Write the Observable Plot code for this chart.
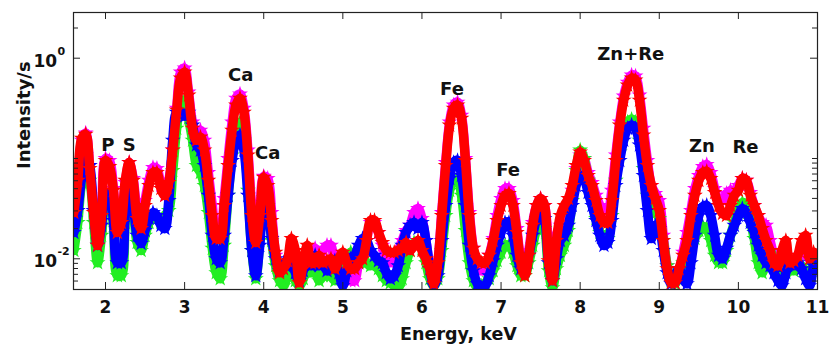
<!DOCTYPE html>
<html>
<head>
<meta charset="utf-8">
<script src="https://cdn.jsdelivr.net/npm/d3@7"></script>
<script src="https://cdn.jsdelivr.net/npm/@observablehq/plot@0.6"></script>
<style>
  body { margin: 0; background: #fff; }
</style>
</head>
<body>
<div id="chart"></div>
<script>
// X-ray fluorescence spectra, counts per second versus photon energy (keV)
const energy = [
  1.60, 1.65, 1.70, 1.75, 1.80, 1.85, 1.90, 1.95, 2.00, 2.05,
  2.10, 2.15, 2.20, 2.25, 2.30, 2.35, 2.40, 2.45, 2.50, 2.55,
  2.60, 2.65, 2.70, 2.75, 2.80, 2.85, 2.90, 2.95, 3.00, 3.05,
  3.10, 3.15, 3.20, 3.25, 3.30, 3.35, 3.40, 3.45, 3.50, 3.55,
  3.60, 3.65, 3.70, 3.75, 3.80, 3.85, 3.90, 3.95, 4.00, 4.05,
  4.10, 4.15, 4.20, 4.25, 4.30, 4.35, 4.40, 4.45, 4.50, 4.55,
  4.60, 4.65, 4.70, 4.75, 4.80, 4.85, 4.90, 4.95, 5.00, 5.05,
  5.10, 5.15, 5.20, 5.25, 5.30, 5.35, 5.40, 5.45, 5.50, 5.55,
  5.60, 5.65, 5.70, 5.75, 5.80, 5.85, 5.90, 5.95, 6.00, 6.05,
  6.10, 6.15, 6.20, 6.25, 6.30, 6.35, 6.40, 6.45, 6.50, 6.55,
  6.60, 6.65, 6.70, 6.75, 6.80, 6.85, 6.90, 6.95, 7.00, 7.05,
  7.10, 7.15, 7.20, 7.25, 7.30, 7.35, 7.40, 7.45, 7.50, 7.55,
  7.60, 7.65, 7.70, 7.75, 7.80, 7.85, 7.90, 7.95, 8.00, 8.05,
  8.10, 8.15, 8.20, 8.25, 8.30, 8.35, 8.40, 8.45, 8.50, 8.55,
  8.60, 8.65, 8.70, 8.75, 8.80, 8.85, 8.90, 8.95, 9.00, 9.05,
  9.10, 9.15, 9.20, 9.25, 9.30, 9.35, 9.40, 9.45, 9.50, 9.55,
  9.60, 9.65, 9.70, 9.75, 9.80, 9.85, 9.90, 9.95, 10.00, 10.05,
  10.10, 10.15, 10.20, 10.25, 10.30, 10.35, 10.40, 10.45, 10.50, 10.55,
  10.60, 10.65, 10.70, 10.75, 10.80, 10.85, 10.90, 10.95, 11.00
];

const magentaSpectrum = [
  0.0241, 0.0538, 0.152, 0.179, 0.0851, 0.0303, 0.0152, 0.0303, 0.100, 0.0955,
  0.0502, 0.0200, 0.0230, 0.0576, 0.0912, 0.0632, 0.0289, 0.0210, 0.0381, 0.0604,
  0.0813, 0.0795, 0.0538, 0.0428, 0.0604, 0.121, 0.317, 0.725, 0.795, 0.458,
  0.230, 0.183, 0.191, 0.152, 0.0725, 0.0340, 0.0183, 0.0183, 0.0399, 0.100,
  0.230, 0.399, 0.438, 0.317, 0.121, 0.0317, 0.0159, 0.0289, 0.0662, 0.0632,
  0.0289, 0.0108, 0.00677, 0.00725, 0.00795, 0.0100, 0.00851, 0.00677, 0.00851, 0.00912,
  0.0108, 0.0127, 0.0108, 0.0121, 0.0136, 0.0136, 0.00851, 0.00759, 0.00912, 0.00795,
  0.00604, 0.00604, 0.00912, 0.0108, 0.0152, 0.0230, 0.0230, 0.0183, 0.0136, 0.0100,
  0.00912, 0.0100, 0.0121, 0.0152, 0.0191, 0.0215, 0.0289, 0.0317, 0.0252, 0.0152,
  0.00851, 0.00604, 0.00912, 0.0289, 0.0912, 0.230, 0.340, 0.364, 0.270, 0.100,
  0.0289, 0.0127, 0.00912, 0.00759, 0.00795, 0.0108, 0.0159, 0.0270, 0.0399, 0.0502,
  0.0502, 0.0381, 0.0200, 0.0100, 0.00795, 0.0121, 0.0230, 0.0340, 0.0399, 0.0340,
  0.0152, 0.0108, 0.0171, 0.0215, 0.0215, 0.0270, 0.0480, 0.0795, 0.108, 0.100,
  0.0725, 0.0576, 0.0428, 0.0340, 0.0270, 0.0289, 0.0480, 0.108, 0.230, 0.418,
  0.576, 0.677, 0.662, 0.428, 0.200, 0.0955, 0.0538, 0.0448, 0.0381, 0.0171,
  0.00851, 0.00632, 0.00576, 0.00759, 0.0116, 0.0183, 0.0303, 0.0502, 0.0677, 0.0832,
  0.0871, 0.0725, 0.0502, 0.0381, 0.0381, 0.0448, 0.0480, 0.0480, 0.0538, 0.0632,
  0.0604, 0.0458, 0.0340, 0.0270, 0.0230, 0.0215, 0.0152, 0.0108, 0.00912, 0.0100,
  0.0108, 0.00955, 0.00912, 0.0100, 0.0108, 0.0121, 0.0108, 0.00912, 0.00759
];

const greenSpectrum = [
  0.0121, 0.0230, 0.0576, 0.0725, 0.0604, 0.0230, 0.00912, 0.0171, 0.0381, 0.0428,
  0.0215, 0.00677, 0.00677, 0.0230, 0.0418, 0.0303, 0.0145, 0.0121, 0.0171, 0.0230,
  0.0270, 0.0252, 0.0230, 0.0270, 0.0303, 0.0759, 0.200, 0.364, 0.381, 0.252,
  0.152, 0.0851, 0.0725, 0.0538, 0.0289, 0.0127, 0.00725, 0.00632, 0.0136, 0.0428,
  0.108, 0.200, 0.230, 0.152, 0.0480, 0.0121, 0.00632, 0.0152, 0.0408, 0.0340,
  0.0152, 0.00851, 0.00604, 0.00538, 0.00677, 0.00759, 0.00604, 0.00538, 0.00632, 0.00851,
  0.00725, 0.00759, 0.00604, 0.00677, 0.00795, 0.00677, 0.00604, 0.00677, 0.00759, 0.00912,
  0.0116, 0.0108, 0.0121, 0.0108, 0.00912, 0.00851, 0.00912, 0.00795, 0.00677, 0.00604,
  0.00576, 0.00538, 0.00514, 0.00632, 0.00912, 0.0121, 0.0145, 0.0136, 0.0127, 0.00912,
  0.00632, 0.00538, 0.00632, 0.0121, 0.0270, 0.0480, 0.0632, 0.0632, 0.0428, 0.0191,
  0.00912, 0.00604, 0.00514, 0.00538, 0.00576, 0.00632, 0.00759, 0.00955, 0.0116, 0.0136,
  0.0136, 0.0116, 0.00851, 0.00677, 0.00677, 0.00912, 0.0136, 0.0200, 0.0241, 0.0200,
  0.00759, 0.00514, 0.00795, 0.0108, 0.0136, 0.0191, 0.0381, 0.0759, 0.121, 0.100,
  0.0604, 0.0381, 0.0252, 0.0183, 0.0152, 0.0159, 0.0270, 0.0604, 0.116, 0.174,
  0.230, 0.246, 0.230, 0.152, 0.0795, 0.0428, 0.0317, 0.0289, 0.0252, 0.0152,
  0.00851, 0.00604, 0.00563, 0.00677, 0.00912, 0.0108, 0.0136, 0.0159, 0.0191, 0.0210,
  0.0200, 0.0152, 0.0108, 0.00912, 0.00912, 0.0121, 0.0171, 0.0230, 0.0303, 0.0364,
  0.0340, 0.0241, 0.0159, 0.00912, 0.00725, 0.00955, 0.0121, 0.00912, 0.00677, 0.00632,
  0.00759, 0.00851, 0.00759, 0.00795, 0.00851, 0.00725, 0.00632, 0.00912, 0.0100
];

const blueSpectrum = [
  0.0183, 0.0303, 0.0677, 0.108, 0.0851, 0.0303, 0.0136, 0.0215, 0.0428, 0.0448,
  0.0241, 0.00912, 0.00912, 0.0270, 0.0458, 0.0340, 0.0171, 0.0142, 0.0191, 0.0252,
  0.0289, 0.0270, 0.0215, 0.0200, 0.0381, 0.152, 0.289, 0.289, 0.264, 0.289,
  0.215, 0.136, 0.121, 0.0851, 0.0428, 0.0171, 0.0100, 0.00912, 0.0171, 0.0428,
  0.0955, 0.152, 0.171, 0.121, 0.0428, 0.0121, 0.00677, 0.0136, 0.0364, 0.0303,
  0.0159, 0.0100, 0.00759, 0.00912, 0.00851, 0.00955, 0.00725, 0.00604, 0.00759, 0.0100,
  0.00851, 0.0108, 0.00851, 0.00912, 0.00759, 0.00795, 0.00955, 0.00725, 0.00538, 0.00759,
  0.0100, 0.0108, 0.0136, 0.0159, 0.0152, 0.0121, 0.0108, 0.00955, 0.00912, 0.00725,
  0.00632, 0.00677, 0.00851, 0.0136, 0.0183, 0.0215, 0.0230, 0.0200, 0.0230, 0.0152,
  0.00795, 0.00538, 0.00677, 0.0152, 0.0340, 0.0632, 0.0912, 0.0955, 0.0677, 0.0340,
  0.0136, 0.00759, 0.00563, 0.00514, 0.00538, 0.00677, 0.00955, 0.0136, 0.0183, 0.0230,
  0.0230, 0.0171, 0.0108, 0.00795, 0.00759, 0.0108, 0.0171, 0.0252, 0.0303, 0.0252,
  0.00912, 0.00604, 0.0100, 0.0152, 0.0171, 0.0215, 0.0340, 0.0538, 0.0677, 0.0632,
  0.0458, 0.0340, 0.0241, 0.0171, 0.0136, 0.0145, 0.0241, 0.0538, 0.0955, 0.152,
  0.200, 0.215, 0.200, 0.136, 0.0677, 0.0303, 0.0159, 0.0215, 0.0200, 0.0121,
  0.00725, 0.00563, 0.00677, 0.00795, 0.00632, 0.00563, 0.00912, 0.0171, 0.0270, 0.0332,
  0.0340, 0.0270, 0.0171, 0.0108, 0.0100, 0.0127, 0.0171, 0.0215, 0.0270, 0.0317,
  0.0289, 0.0230, 0.0183, 0.0136, 0.0108, 0.00912, 0.00851, 0.00725, 0.00604, 0.00538,
  0.00725, 0.00912, 0.00851, 0.00912, 0.00795, 0.00632, 0.00538, 0.00851, 0.0108
];

const redSpectrum = [
  0.0289, 0.0604, 0.159, 0.174, 0.0795, 0.0289, 0.0136, 0.0270, 0.0955, 0.0832,
  0.0480, 0.0183, 0.0230, 0.0604, 0.0912, 0.0604, 0.0252, 0.0200, 0.0340, 0.0538,
  0.0725, 0.0725, 0.0502, 0.0428, 0.0576, 0.121, 0.303, 0.632, 0.725, 0.428,
  0.200, 0.152, 0.163, 0.121, 0.0604, 0.0270, 0.0159, 0.0159, 0.0340, 0.0851,
  0.191, 0.340, 0.399, 0.289, 0.108, 0.0270, 0.0145, 0.0270, 0.0647, 0.0538,
  0.0241, 0.0116, 0.00725, 0.00795, 0.00955, 0.0159, 0.0121, 0.00576, 0.00912, 0.0136,
  0.00912, 0.00912, 0.0108, 0.00912, 0.00955, 0.0100, 0.00795, 0.0100, 0.0116, 0.00912,
  0.00795, 0.00795, 0.00912, 0.0100, 0.0152, 0.0241, 0.0241, 0.0183, 0.0145, 0.0121,
  0.0116, 0.0116, 0.0121, 0.0127, 0.0145, 0.0121, 0.0136, 0.0152, 0.0121, 0.0100,
  0.00795, 0.00563, 0.00912, 0.0270, 0.0851, 0.215, 0.317, 0.340, 0.252, 0.0955,
  0.0270, 0.0127, 0.0100, 0.00912, 0.00912, 0.0108, 0.0152, 0.0241, 0.0340, 0.0428,
  0.0448, 0.0340, 0.0183, 0.00912, 0.00677, 0.0108, 0.0215, 0.0340, 0.0399, 0.0340,
  0.00955, 0.00604, 0.0152, 0.0270, 0.0340, 0.0399, 0.0538, 0.0851, 0.116, 0.0955,
  0.0677, 0.0538, 0.0381, 0.0270, 0.0230, 0.0230, 0.0381, 0.0955, 0.215, 0.381,
  0.538, 0.632, 0.604, 0.381, 0.171, 0.0851, 0.0538, 0.0399, 0.0303, 0.0152,
  0.00795, 0.00576, 0.00576, 0.00795, 0.0108, 0.0152, 0.0270, 0.0428, 0.0604, 0.0725,
  0.0742, 0.0632, 0.0458, 0.0340, 0.0283, 0.0270, 0.0340, 0.0428, 0.0480, 0.0632,
  0.0604, 0.0428, 0.0340, 0.0270, 0.0200, 0.0152, 0.0121, 0.00912, 0.00851, 0.0121,
  0.0152, 0.00912, 0.00955, 0.0108, 0.0152, 0.0171, 0.0100, 0.0116, 0.0108
];

// Drawing order: first entry is at the back, last on top
const seriesOrder = ["magenta", "green", "blue", "red"];
const seriesColors = ["#ff00ff", "#22ee22", "#0000ff", "#ff0000"];
const seriesValues = [magentaSpectrum, greenSpectrum, blueSpectrum, redSpectrum];

// Emission-line annotations
const peakNames = ["P", "S", "Ca", "Ca", "Fe", "Fe", "Zn+Re", "Zn", "Re"];
const peakEnergy = [2.03, 2.30, 3.71, 4.05, 6.38, 7.09, 8.64, 9.54, 10.09];
const peakHeight = [0.137, 0.137, 0.677, 0.112, 0.491, 0.0759, 1.107, 0.133, 0.129];

// Axis ticks
const xTicks = [2, 3, 4, 5, 6, 7, 8, 9, 10, 11];
const yMajorTicks = [1, 0.01];
const yMajorExponents = ["0", "-2"];
const yMinorTicks = [2, 0.1, 0.09, 0.08, 0.07, 0.06, 0.05, 0.04, 0.03, 0.02,
                     0.009, 0.008, 0.007, 0.006];

const width = 837, height = 350;
const margin = {top: 12, right: 20, bottom: 61, left: 73};
const innerW = width - margin.left - margin.right;
const innerH = height - margin.top - margin.bottom;

const spectra = seriesOrder.map((name, k) =>
  energy.map((e, i) => ({energy: e, intensity: seriesValues[k][i], series: name}))
);

// Each spectrum is a thick band of star markers joined by a wide stroke
const lineMarks = spectra.flatMap((rows, k) => [
  Plot.line(rows, {
    x: "energy", y: "intensity",
    stroke: seriesColors[k], strokeWidth: 9.5,
    strokeLinejoin: "round", strokeLinecap: "round",
    curve: "catmull-rom", clip: true
  }),
  Plot.dot(rows, {
    x: "energy", y: "intensity", symbol: "star", r: 5,
    fill: seriesColors[k], stroke: "none", clip: true
  })
]);

const labelFont = {fontSize: 17, fill: "#111"};

const chart = Plot.plot({
  width, height,
  marginTop: margin.top, marginRight: margin.right,
  marginBottom: margin.bottom, marginLeft: margin.left,
  style: {fontFamily: "'DejaVu Sans', sans-serif", fontWeight: "bold", background: "#fff", color: "#111"},
  x: {domain: [1.5955, 11], axis: null},
  y: {type: "log", domain: [0.00494, 2.855], axis: null},
  marks: [
    ...lineMarks,
    // inward tick marks on all four sides
    Plot.ruleX(xTicks, {x: d => d, insetTop: innerH - 7, stroke: "#222"}),
    Plot.ruleX(xTicks, {x: d => d, insetBottom: innerH - 7, stroke: "#222"}),
    Plot.ruleY(yMajorTicks, {y: d => d, insetRight: innerW - 7, stroke: "#222"}),
    Plot.ruleY(yMajorTicks, {y: d => d, insetLeft: innerW - 7, stroke: "#222"}),
    Plot.ruleY(yMinorTicks, {y: d => d, insetRight: innerW - 5, stroke: "#222"}),
    Plot.ruleY(yMinorTicks, {y: d => d, insetLeft: innerW - 5, stroke: "#222"}),
    Plot.frame({stroke: "#222", strokeWidth: 1.2}),
    // tick labels
    Plot.text(xTicks, {x: d => d, text: d => String(d), frameAnchor: "bottom",
      lineAnchor: "top", dy: 11, ...labelFont}),
    Plot.text(yMajorTicks, {y: d => d, text: () => "10", frameAnchor: "left",
      textAnchor: "start", dx: -40, dy: 3, ...labelFont}),
    Plot.text(yMajorTicks, {y: d => d, text: (d, i) => yMajorExponents[i], frameAnchor: "left",
      textAnchor: "start", dx: -16, dy: -7, fontSize: 11, fill: "#111"}),
    // axis titles
    Plot.text(["Energy, keV"], {text: d => d, frameAnchor: "bottom", lineAnchor: "top",
      dx: 13, dy: 38, fontSize: 17.5, fill: "#111"}),
    Plot.text(["Intensity/s"], {text: d => d, frameAnchor: "left", rotate: -90,
      dx: -49, dy: 18, fontSize: 18, fill: "#111"}),
    // peak annotations
    Plot.text(peakNames, {x: (d, i) => peakEnergy[i], y: (d, i) => peakHeight[i],
      text: d => d, fontSize: 18, fill: "#111"})
  ]
});

document.getElementById("chart").appendChild(chart);
</script>
</body>
</html>
